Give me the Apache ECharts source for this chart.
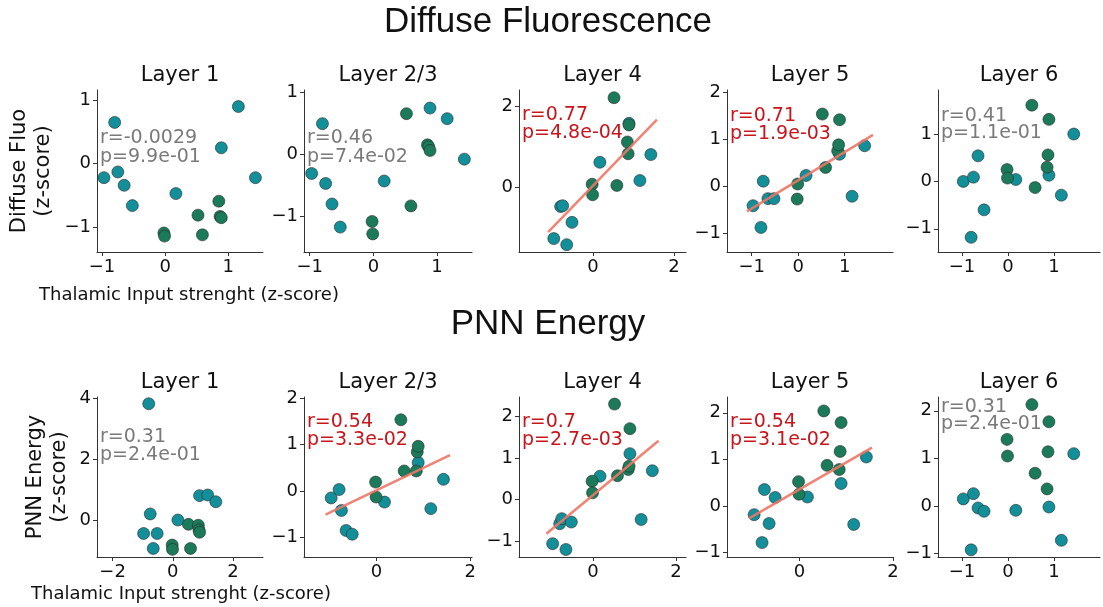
<!DOCTYPE html>
<html>
<head>
<meta charset="utf-8">
<script src="https://cdn.jsdelivr.net/npm/echarts@6/dist/echarts.min.js"></script>
<style>
  html, body { margin: 0; padding: 0; background: #fff; }
  #main { width: 1103px; height: 607px; }
</style>
</head>
<body>
<div id="main"></div>
<script>
// thalamic input (x), same animals in every panel
const xTeal = [-0.97, -0.80, -0.75, -0.65, -0.52, 0.17, 0.89, 1.16, 1.43]
const xGreen = [-0.02, -0.01, 0.52, 0.59, 0.85, 0.87, 0.89]

const layers = ['Layer 1', 'Layer 2/3', 'Layer 4', 'Layer 5', 'Layer 6']

// Diffuse fluorescence (z-score)
const fluoL1Teal = [-0.22, 0.65, -0.13, -0.34, -0.66, -0.47, 0.25, 0.90, -0.22]
const fluoL1Green = [-1.09, -1.14, -0.81, -1.12, -0.59, -0.83, -0.85]
const fluoL23Teal = [-0.31, 0.49, -0.47, -0.80, -1.17, -0.43, 0.74, 0.57, -0.08]
const fluoL23Green = [-1.08, -1.28, 0.65, -0.83, 0.15, 0.12, 0.06]
const fluoL4Teal = [-1.27, -0.48, -0.46, -1.42, -0.87, 0.61, 1.57, 0.16, 0.80]
const fluoL4Green = [0.07, -0.19, 2.20, 0.04, 1.11, 0.82, 1.53]
const fluoL5Teal = [-0.41, -0.87, 0.11, -0.26, -0.26, 0.23, 0.68, -0.21, 0.86]
const fluoL5Green = [-0.27, 0.05, 1.53, 0.40, 0.75, 0.88, 1.41]
const fluoL6Teal = [0.00, -1.18, 0.09, 0.54, -0.60, 0.04, 0.13, -0.29, 1.00]
const fluoL6Green = [0.25, 0.07, 1.61, -0.13, 0.30, 0.56, 1.31]

// PNN energy (z-score)
const pnnL1Teal = [-0.42, 3.83, 0.22, -0.91, -0.42, 0.02, 0.82, 0.84, 0.62]
const pnnL1Green = [-0.80, -0.94, -0.12, -0.91, -0.15, -0.30, -0.38]
const pnnL23Teal = [-0.15, 0.03, -0.42, -0.85, -0.93, -0.24, 0.61, -0.38, 0.25]
const pnnL23Green = [0.19, -0.13, 1.53, 0.43, 0.43, 0.84, 0.96]
const pnnL4Teal = [-1.06, -0.58, -0.46, -1.20, -0.54, 0.56, 1.10, -0.48, 0.69]
const pnnL4Green = [0.44, 0.16, 2.29, 0.57, 0.72, 0.80, 1.70]
const pnnL5Teal = [-0.19, -0.79, 0.35, -0.38, 0.18, 0.19, 0.48, -0.40, 1.05]
const pnnL5Green = [0.52, 0.25, 2.04, 0.87, 0.78, 1.17, 1.79]
const pnnL6Teal = [0.15, -0.92, 0.26, -0.04, -0.11, -0.09, -0.02, -0.72, 1.10]
const pnnL6Green = [1.40, 1.05, 2.13, 0.69, 0.36, 1.14, 1.77]

// stats text
const fluoStats = [['r=-0.0029', 'p=9.9e-01'], ['r=0.46', 'p=7.4e-02'], ['r=0.77', 'p=4.8e-04'], ['r=0.71', 'p=1.9e-03'], ['r=0.41', 'p=1.1e-01']]
const pnnStats = [['r=0.31', 'p=2.4e-01'], ['r=0.54', 'p=3.3e-02'], ['r=0.7', 'p=2.7e-03'], ['r=0.54', 'p=3.1e-02'], ['r=0.31', 'p=2.4e-01']]

// regression line ends [x0, y0, x1, y1], null = not significant
const fluoFits = [null, null, [-1.11, -1.11, 1.58, 1.66], [-1.10, -0.53, 1.61, 1.09], null]
const pnnFits = [null, [-1.09, -0.51, 1.57, 0.77], [-1.12, -0.82, 1.58, 1.41], [-1.08, -0.27, 1.55, 1.25], null]

// tick values
const fluoXTicks = [[-1, 0, 1], [-1, 0, 1], [0, 2], [-1, 0, 1], [-1, 0, 1]]
const fluoYTicks = [[-1, 0, 1], [-1, 0, 1], [0, 2], [-1, 0, 1, 2], [-1, 0, 1]]
const pnnXTicks = [[-2, 0, 2], [0, 2], [0, 2], [0, 2], [-1, 0, 1]]
const pnnYTicks = [[0, 2, 4], [-1, 0, 1, 2], [-1, 0, 1, 2], [-1, 0, 1, 2], [-1, 0, 1, 2]]

// axis limits [xmin, xmax, ymin, ymax]
const fluoLims = [[-1.08, 1.55, -1.39, 1.16], [-1.09, 1.55, -1.57, 1.03], [-1.83, 2.30, -1.60, 2.39], [-1.53, 2.04, -1.39, 2.04], [-1.52, 2.0, -1.49, 1.93]]
const pnnLims = [[-2.52, 3.0, -1.19, 4.05], [-1.55, 2.04, -1.42, 2.02], [-1.78, 2.24, -1.38, 2.46], [-1.55, 2.0, -1.10, 2.34], [-1.52, 2.0, -1.07, 2.29]]

const TEAL = '#128f99'
const GREEN = '#1a7a59'
const FONT = 'DejaVu Sans'

const fluoY = [[fluoL1Teal, fluoL1Green], [fluoL23Teal, fluoL23Green], [fluoL4Teal, fluoL4Green], [fluoL5Teal, fluoL5Green], [fluoL6Teal, fluoL6Green]]
const pnnY = [[pnnL1Teal, pnnL1Green], [pnnL23Teal, pnnL23Green], [pnnL4Teal, pnnL4Green], [pnnL5Teal, pnnL5Green], [pnnL6Teal, pnnL6Green]]

const colLeft = [97, 304, 519, 727, 938]
const colWidth = [166, 168, 167, 166, 162]
const rows = [
  { top: 90, height: 162, ys: fluoY, stats: fluoStats, fits: fluoFits, xt: fluoXTicks, yt: fluoYTicks, lims: fluoLims,
    titleY: 76, statY: [[138, 157], [138, 157], [115, 133], [116, 134], [116, 133]] },
  { top: 397, height: 160, ys: pnnY, stats: pnnStats, fits: pnnFits, xt: pnnXTicks, yt: pnnYTicks, lims: pnnLims,
    titleY: 383, statY: [[437, 455], [422, 440], [422, 440], [422, 440], [407, 424]] }
]

const minus = v => String(v).replace('-', '\u2212')
const grid = [], xAxis = [], yAxis = [], series = [], graphic = []

rows.forEach((row, r) => {
  layers.forEach((name, c) => {
    const idx = r * 5 + c
    const lim = row.lims[c]
    grid.push({ left: colLeft[c], top: row.top, width: colWidth[c], height: row.height })
    const axisCommon = {
      type: 'value',
      gridIndex: idx,
      splitLine: { show: false },
      axisLine: { show: true, onZero: false, lineStyle: { color: '#333', width: 1 } },
      axisTick: { show: true, length: 4, lineStyle: { color: '#333' } },
      axisLabel: { color: '#111', fontSize: 18, fontFamily: FONT, margin: 6, formatter: minus }
    }
    xAxis.push(Object.assign({}, axisCommon, {
      min: lim[0], max: lim[1],
      axisTick: Object.assign({}, axisCommon.axisTick, { customValues: row.xt[c] }),
      axisLabel: Object.assign({}, axisCommon.axisLabel, { customValues: row.xt[c] })
    }))
    yAxis.push(Object.assign({}, axisCommon, {
      min: lim[2], max: lim[3],
      axisTick: Object.assign({}, axisCommon.axisTick, { customValues: row.yt[c] }),
      axisLabel: Object.assign({}, axisCommon.axisLabel, { customValues: row.yt[c] })
    }))
    const [yt, yg] = row.ys[c]
    const dot = color => ({ color: color, opacity: 1, borderColor: '#2a2a2a', borderWidth: 0.6 })
    series.push({
      type: 'scatter', xAxisIndex: idx, yAxisIndex: idx, symbolSize: 12,
      itemStyle: dot(TEAL), data: xTeal.map((x, i) => [x, yt[i]])
    })
    series.push({
      type: 'scatter', xAxisIndex: idx, yAxisIndex: idx, symbolSize: 12,
      itemStyle: dot(GREEN), data: xGreen.map((x, i) => [x, yg[i]])
    })
    const fit = row.fits[c]
    if (fit) {
      series.push({
        type: 'line', xAxisIndex: idx, yAxisIndex: idx, symbol: 'none', z: 3,
        lineStyle: { color: '#ee7565', width: 2.5, opacity: 0.9 },
        data: [[fit[0], fit[1]], [fit[2], fit[3]]]
      })
    }
    // subplot title
    graphic.push({
      type: 'text', x: colLeft[c] + colWidth[c] / 2, y: row.titleY,
      style: { text: name, fontSize: 21, fontFamily: FONT, fill: '#111', align: 'center', verticalAlign: 'middle' }
    })
    const statColor = fit ? '#c8141a' : '#7a7a7a'
    row.stats[c].forEach((t, k) => {
      graphic.push({
        type: 'text', x: colLeft[c] + 3, y: row.statY[c][k],
        style: { text: t, fontSize: 19, fontFamily: FONT, fill: statColor, align: 'left', verticalAlign: 'middle' }
      })
    })
  })
})

// big titles and axis labels
graphic.push(
  { type: 'text', x: 548, y: 22, style: { text: 'Diffuse Fluorescence', fontSize: 35, fontFamily: 'Liberation Sans', fill: '#111', align: 'center', verticalAlign: 'middle' } },
  { type: 'text', x: 548, y: 324, style: { text: 'PNN Energy', fontSize: 35, fontFamily: 'Liberation Sans', fill: '#111', align: 'center', verticalAlign: 'middle' } },
  { type: 'text', x: 189, y: 295, style: { text: 'Thalamic Input strenght (z-score)', fontSize: 18, fontFamily: FONT, fill: '#111', align: 'center', verticalAlign: 'middle' } },
  { type: 'text', x: 181, y: 594, style: { text: 'Thalamic Input strenght (z-score)', fontSize: 18, fontFamily: FONT, fill: '#111', align: 'center', verticalAlign: 'middle' } },
  { type: 'text', x: 32, y: 171, rotation: Math.PI / 2, style: { text: 'Diffuse Fluo\n(z-score)', fontSize: 21, lineHeight: 24, fontFamily: FONT, fill: '#111', align: 'center', verticalAlign: 'middle' } },
  { type: 'text', x: 48, y: 477, rotation: Math.PI / 2, style: { text: 'PNN Energy\n(z-score)', fontSize: 21, lineHeight: 24, fontFamily: FONT, fill: '#111', align: 'center', verticalAlign: 'middle' } }
)

const myChart = echarts.init(document.getElementById('main'), null, { renderer: 'canvas' })
myChart.setOption({
  animation: false,
  backgroundColor: '#fff',
  grid: grid,
  xAxis: xAxis,
  yAxis: yAxis,
  series: series,
  graphic: graphic
})
window.addEventListener('resize', () => {
  myChart.resize()
})
</script>
</body>
</html>
